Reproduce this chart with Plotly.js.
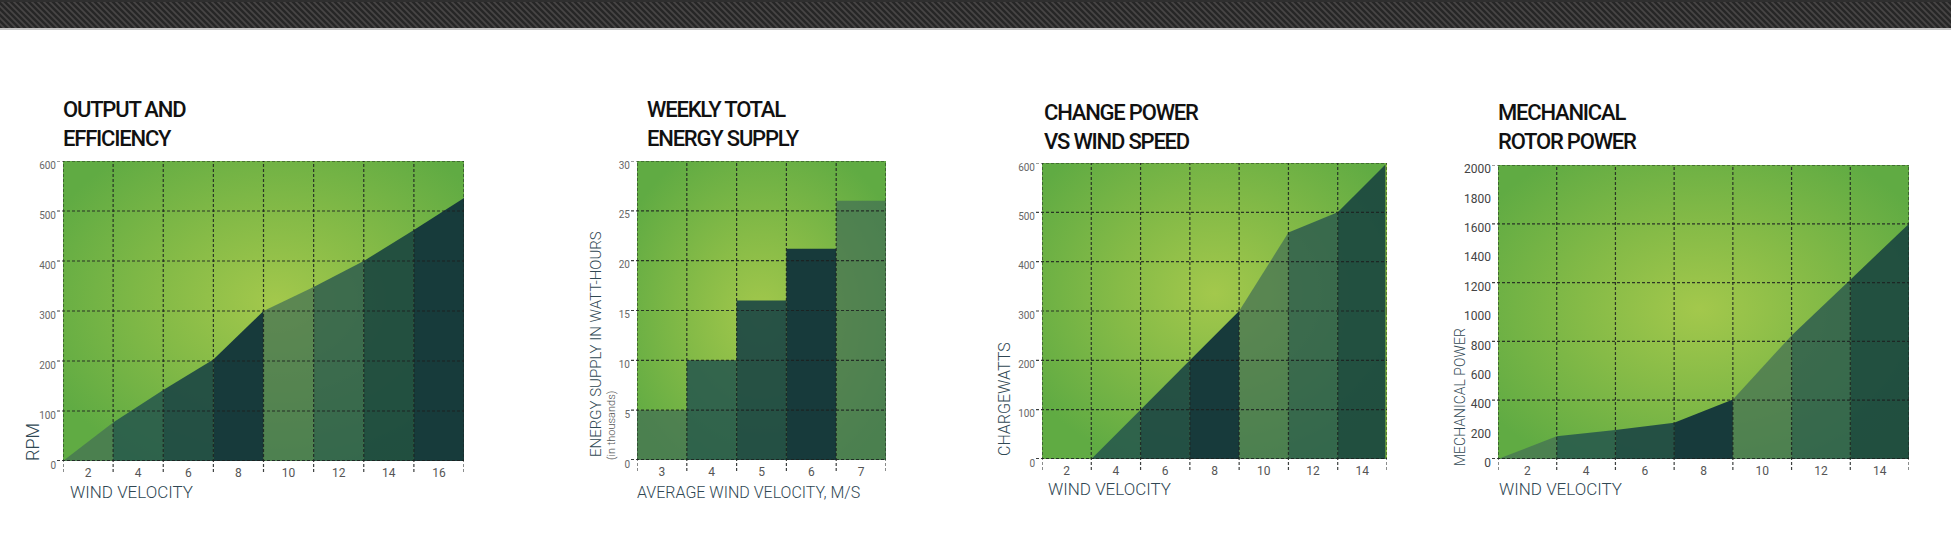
<!DOCTYPE html>
<html>
<head>
<meta charset="utf-8">
<script src="https://cdn.plot.ly/plotly-3.0.1.min.js"></script>
<style>
html,body{margin:0;padding:0;background:#ffffff;}
#chart{width:1951px;height:540px;}
</style>
</head>
<body>
<div id="chart"></div>
<script>
// ---------------- DATA ----------------
const chart1Title = 'OUTPUT AND<br>EFFICIENCY';
const chart1XTitle = 'WIND VELOCITY';
const chart1YTitle = 'RPM';
const chart1Categories = ['2', '4', '6', '8', '10', '12', '14', '16'];
const chart1RpmAtBoundaries = [0, 77, 142, 203, 300, 348, 400, 462, 526];
const chart1YTicks = [0, 100, 200, 300, 400, 500, 600];

const chart2Title = 'WEEKLY TOTAL<br>ENERGY SUPPLY';
const chart2XTitle = 'AVERAGE WIND VELOCITY, M/S';
const chart2YTitle = 'ENERGY SUPPLY IN WATT-HOURS';
const chart2YSubTitle = '(in thousands)';
const chart2Categories = ['3', '4', '5', '6', '7'];
const chart2Energy = [5, 10, 16, 21.2, 26];
const chart2YTicks = [0, 5, 10, 15, 20, 25, 30];

const chart3Title = 'CHANGE POWER<br>VS WIND SPEED';
const chart3XTitle = 'WIND VELOCITY';
const chart3YTitle = 'CHARGEWATTS';
const chart3Categories = ['2', '4', '6', '8', '10', '12', '14'];
const chart3WattsAtBoundaries = [0, 0, 100, 200, 300, 459, 500, 600];
const chart3YTicks = [0, 100, 200, 300, 400, 500, 600];

const chart4Title = 'MECHANICAL<br>ROTOR POWER';
const chart4XTitle = 'WIND VELOCITY';
const chart4YTitle = 'MECHANICAL POWER';
const chart4Categories = ['2', '4', '6', '8', '10', '12', '14'];
const chart4PowerAtBoundaries = [0, 155, 197, 247, 405, 840, 1220, 1600];
const chart4YTicks = [0, 200, 400, 600, 800, 1000, 1200, 1400, 1600, 1800, 2000];
const chart4YGrid = [0, 400, 800, 1200, 1600, 2000];

// ---------------- STYLE ----------------
const W = 1951, H = 540;
const FONT = 'Roboto, "Open Sans", sans-serif';
const GRID_COLOR = 'rgba(28,32,32,0.85)';
const GRID_DASH = '3px,2px';
const AXIS_TITLE_COLOR = '#2f4753';
const shadePalette = [
  'rgba(67,111,85,0.72)',
  'rgba(37,86,77,0.86)',
  'rgba(29,72,68,0.92)',
  '#173a3b',
  'rgba(67,111,85,0.72)',
  'rgba(43,89,78,0.82)',
  'rgba(28,72,63,0.93)',
  '#173b3b'
];

const panels = [
  {n: 1, box: {l: 63, t: 161, r: 464, b: 461}, cats: chart1Categories, kind: 'area',
   values: chart1RpmAtBoundaries, ymax: 600, yticks: chart1YTicks, ygrid: chart1YTicks,
   grad: {cx: 0.53, cy: 0.47}, ytickSize: 10, ytickColor: '#666'},
  {n: 2, box: {l: 637, t: 161, r: 886, b: 460}, cats: chart2Categories, kind: 'bar',
   values: chart2Energy, ymax: 30, yticks: chart2YTicks, ygrid: chart2YTicks,
   grad: {cx: 0.5, cy: 0.52}, ytickSize: 10, ytickColor: '#666'},
  {n: 3, box: {l: 1042, t: 163, r: 1387, b: 459}, cats: chart3Categories, kind: 'area',
   values: chart3WattsAtBoundaries, ymax: 600, yticks: chart3YTicks, ygrid: chart3YTicks,
   grad: {cx: 0.5, cy: 0.44}, ytickSize: 10, ytickColor: '#666', edge: '#96cc45'},
  {n: 4, box: {l: 1498, t: 165, r: 1909, b: 459}, cats: chart4Categories, kind: 'area',
   values: chart4PowerAtBoundaries, ymax: 2000, yticks: chart4YTicks, ygrid: chart4YGrid,
   grad: {cx: 0.49, cy: 0.49}, ytickSize: 12, ytickColor: '#444'}
];

function gradientSvg(cx, cy) {
  const svg = '<svg xmlns="http://www.w3.org/2000/svg" width="400" height="300" viewBox="0 0 400 300" preserveAspectRatio="none">' +
    '<defs><radialGradient id="g" cx="' + cx + '" cy="' + cy + '" r="0.62">' +
    '<stop offset="0" stop-color="#a3c84c"/><stop offset="0.45" stop-color="#86bb47"/>' +
    '<stop offset="1" stop-color="#60ab43"/></radialGradient></defs>' +
    '<rect width="400" height="300" fill="url(#g)"/></svg>';
  return 'data:image/svg+xml;charset=utf-8,' + encodeURIComponent(svg);
}
function carbonSvg() {
  const svg = '<svg xmlns="http://www.w3.org/2000/svg" width="1951" height="28" viewBox="0 0 1951 28" preserveAspectRatio="none">' +
    '<defs><pattern id="p" width="6" height="6" patternUnits="userSpaceOnUse">' +
    '<rect width="6" height="6" fill="#262626"/>' +
    '<path d="M0,0 L6,6 M-3,3 L3,9 M3,-3 L9,3" stroke="#474545" stroke-width="1.7"/>' +
    '</pattern></defs><rect width="1951" height="28" fill="url(#p)"/>' +
    '<rect y="0" width="1951" height="2" fill="#2f2f2f"/></svg>';
  return 'data:image/svg+xml;charset=utf-8,' + encodeURIComponent(svg);
}

const data = [];
const layout = {
  width: W, height: H,
  margin: {l: 0, r: 0, t: 0, b: 0},
  paper_bgcolor: '#ffffff',
  plot_bgcolor: 'rgba(0,0,0,0)',
  showlegend: false,
  hovermode: false,
  shapes: [],
  images: [],
  annotations: []
};

function px2x(p) { return p / W; }
function px2y(p) { return 1 - p / H; }

panels.forEach(p => {
  const sfx = p.n === 1 ? '' : String(p.n);
  const xa = 'x' + sfx, ya = 'y' + sfx;
  const N = p.cats.length;
  const wpx = p.box.r - p.box.l, hpx = p.box.b - p.box.t;

  layout['xaxis' + sfx] = {
    anchor: ya, domain: [px2x(p.box.l), px2x(p.box.r)], range: [0, N],
    tickvals: p.cats.map((c, i) => i + 0.5), ticktext: p.cats,
    showgrid: false, zeroline: false, showline: false, ticks: '',
    tickfont: {family: FONT, size: 12, color: '#555'}, ticklabelstandoff: 3,
    fixedrange: true
  };
  layout['yaxis' + sfx] = {
    anchor: xa, domain: [px2y(p.box.b), px2y(p.box.t)], range: [0, p.ymax],
    tickvals: p.yticks, ticktext: p.yticks.map(String),
    showgrid: false, zeroline: false, showline: false, ticks: '',
    tickfont: {family: FONT, size: p.ytickSize, color: p.ytickColor},
    ticklabelstandoff: 6, ticklabelshift: 4,
    fixedrange: true
  };

  // background gradient
  layout.images.push({
    source: gradientSvg(p.grad.cx, p.grad.cy), xref: 'paper', yref: 'paper',
    x: px2x(p.box.l), y: px2y(p.box.t), sizex: wpx / W, sizey: hpx / H,
    xanchor: 'left', yanchor: 'top', sizing: 'stretch', layer: 'below'
  });

  // marks
  if (p.kind === 'area') {
    for (let i = 0; i < N; i++) {
      data.push({
        type: 'scatter', mode: 'lines', xaxis: xa, yaxis: ya,
        x: [i, i, i + 1, i + 1, i], y: [0, p.values[i], p.values[i + 1], 0, 0],
        fill: 'toself', fillcolor: shadePalette[i % shadePalette.length],
        line: {width: 0}, hoverinfo: 'skip'
      });
    }
  } else {
    data.push({
      type: 'bar', xaxis: xa, yaxis: ya,
      x: p.cats.map((c, i) => i + 0.5), y: p.values, width: 1,
      marker: {color: p.cats.map((c, i) => shadePalette[i % shadePalette.length]), line: {width: 0}},
      hoverinfo: 'skip'
    });
  }

  // lime right edge (chart 3)
  if (p.edge) {
    layout.shapes.push({type: 'line', layer: 'above', xref: xa, yref: ya + ' domain',
      x0: N, x1: N, y0: 0, y1: 1, line: {color: p.edge, width: 3}});
  }

  // dashed grid drawn above the marks, extending outside as tick marks
  p.ygrid.forEach(v => {
    layout.shapes.push({type: 'line', layer: 'above', xref: xa + ' domain', yref: ya,
      x0: -6 / wpx, x1: 1, y0: v, y1: v,
      line: {color: GRID_COLOR, width: v === 0 ? 2 : 1.2, dash: GRID_DASH}});
  });
  for (let i = 0; i <= N; i++) {
    layout.shapes.push({type: 'line', layer: 'above', xref: xa, yref: ya + ' domain',
      x0: i, x1: i, y0: -11 / hpx, y1: 1,
      line: {color: GRID_COLOR, width: 1.2, dash: GRID_DASH}});
  }
});

// carbon top bar
layout.images.push({source: carbonSvg(), xref: 'paper', yref: 'paper', x: 0, y: 1,
  sizex: 1, sizey: 28 / H, xanchor: 'left', yanchor: 'top', sizing: 'stretch', layer: 'above'});
layout.shapes.push({type: 'rect', xref: 'paper', yref: 'paper', x0: 0, x1: 1,
  y0: px2y(30), y1: px2y(28), fillcolor: '#c6c6c6', line: {width: 0}});

// titles and axis titles
function title(text, xpx, ycpx) {
  layout.annotations.push({text: text, xref: 'paper', yref: 'paper', x: px2x(xpx), y: px2y(ycpx),
    xanchor: 'left', yanchor: 'middle', align: 'left', showarrow: false,
    font: {family: FONT, size: 22, weight: 500, color: '#111'}});
}
function xTitle(text, xpx, ycpx, size) {
  layout.annotations.push({text: text, xref: 'paper', yref: 'paper', x: px2x(xpx), y: px2y(ycpx),
    xanchor: 'left', yanchor: 'middle', showarrow: false,
    font: {family: FONT, size: size || 17, weight: 300, color: AXIS_TITLE_COLOR}});
}
function yTitle(text, xcpx, ycpx, size, color) {
  layout.annotations.push({text: text, xref: 'paper', yref: 'paper', x: px2x(xcpx), y: px2y(ycpx),
    xanchor: 'center', yanchor: 'middle', textangle: -90, showarrow: false,
    font: {family: FONT, size: size || 17, weight: 300, color: color || AXIS_TITLE_COLOR}});
}

title(chart1Title, 61, 124);
title(chart2Title, 645, 124);
title(chart3Title, 1042, 127);
title(chart4Title, 1496, 127);

xTitle(chart1XTitle, 68, 492);
xTitle(chart2XTitle, 635, 492, 16);
xTitle(chart3XTitle, 1046, 489);
xTitle(chart4XTitle, 1497, 489);

yTitle(chart1YTitle, 32, 442, 18);
yTitle(chart2YTitle, 596, 344, 15);
yTitle(chart2YSubTitle, 611, 426, 11, '#555');
yTitle(chart3YTitle, 1004, 399, 16);
yTitle(chart4YTitle, 1460, 397, 14);

const TITLE_COUNT = 4;
Plotly.newPlot('chart', data, layout, {staticPlot: true, displayModeBar: false}).then(gd => {
  gd.querySelectorAll('g.annotation').forEach(g => {
    const idx = Number(g.getAttribute('data-index'));
    const t = g.querySelector('text');
    if (idx < TITLE_COUNT && t) t.style.letterSpacing = '-1.2px';
  });
});
</script>
</body>
</html>
